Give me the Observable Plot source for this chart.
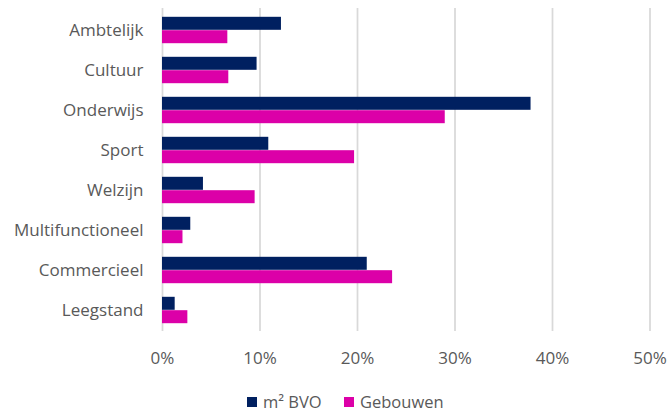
<!DOCTYPE html>
<html><head><meta charset="utf-8">
<script src="https://cdn.jsdelivr.net/npm/d3@7"></script>
<script src="https://cdn.jsdelivr.net/npm/@observablehq/plot@0.6"></script>
<style>
body{margin:0;background:#fff;font-family:"Open Sans",sans-serif;}
#chart{position:absolute;left:0;top:0;}
.lg{position:absolute;top:394px;height:16px;line-height:16px;display:flex;align-items:center;font-size:16.5px;color:#595959;white-space:nowrap;}
.sw{width:10px;height:10px;margin-right:6px;display:inline-block;}
</style></head><body>
<div id="chart"></div>
<div id="legend"></div>
<script>
const categories = ["Ambtelijk","Cultuur","Onderwijs","Sport","Welzijn","Multifunctioneel","Commercieel","Leegstand"];
const seriesNames = ["m² BVO","Gebouwen"];
const bvo = [12.2, 9.7, 37.8, 10.9, 4.2, 2.9, 21.0, 1.3];
const gebouwen = [6.7, 6.8, 29.0, 19.7, 9.5, 2.1, 23.6, 2.6];
const xTicks = [0, 10, 20, 30, 40, 50];
const colors = ["#002060", "#DC00A8"];

const dataBvo = categories.map((c, i) => ({cat: c, series: seriesNames[0], value: bvo[i]}));
const dataGeb = categories.map((c, i) => ({cat: c, series: seriesNames[1], value: gebouwen[i]}));

const chart = Plot.plot({
  width: 669, height: 384,
  marginTop: 8, marginBottom: 53, marginLeft: 162, marginRight: 19.5,
  style: {fontFamily: "Open Sans", fontSize: "17px", color: "#595959", background: "white"},
  x: {domain: [0, 50], ticks: xTicks, tickFormat: d => d + "%", tickSize: 0, tickPadding: 20, label: null},
  y: {domain: categories, padding: 0, tickSize: 0, tickPadding: 19, label: null},
  marks: [
    Plot.ruleX(xTicks, {stroke: "#d9d9d9", strokeWidth: 1.75}),
    Plot.barX(dataBvo, {x: "value", y: "cat", fill: colors[0], insetTop: 6.8, insetBottom: 20.2}),
    Plot.barX(dataGeb, {x: "value", y: "cat", fill: colors[1], insetTop: 20.2, insetBottom: 6.8})
  ]
});
document.getElementById("chart").append(chart);

const legendLefts = [247, 344];
const legend = document.getElementById("legend");
seriesNames.forEach((s, i) => {
  const item = document.createElement("div");
  item.className = "lg";
  item.style.left = legendLefts[i] + "px";
  const sw = document.createElement("span");
  sw.className = "sw";
  sw.style.background = colors[i];
  item.append(sw, document.createTextNode(s));
  legend.append(item);
});
</script>
</body></html>
